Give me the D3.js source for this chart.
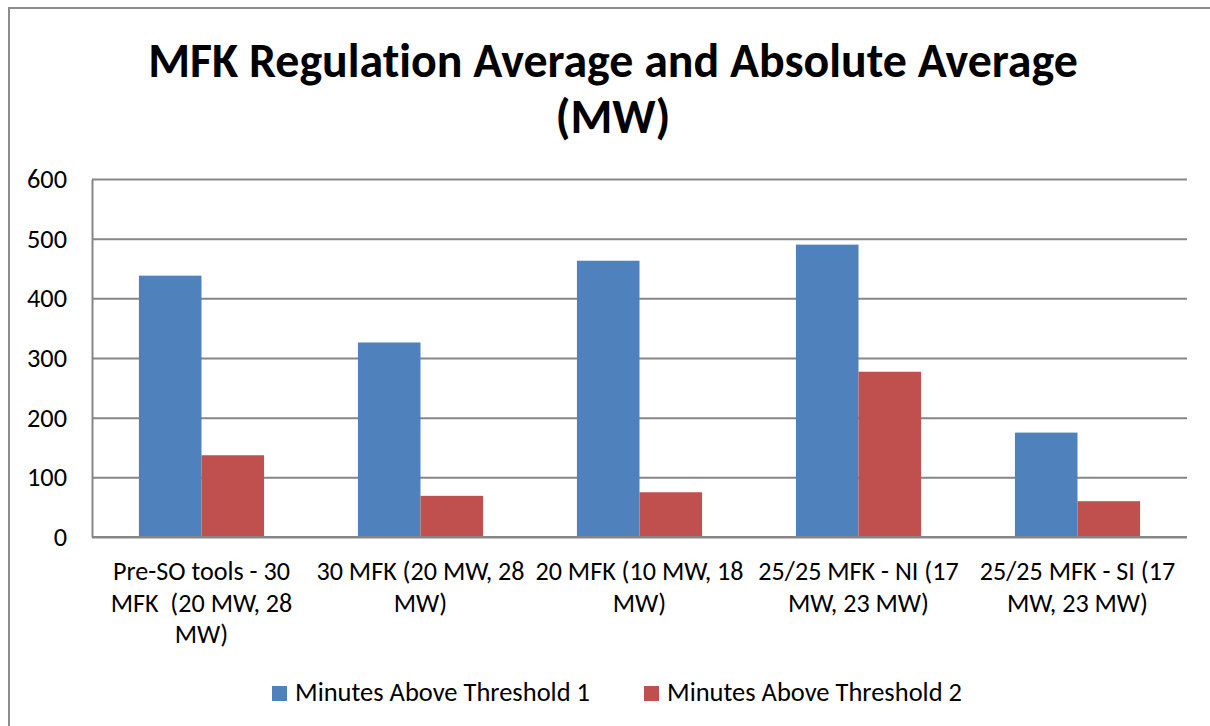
<!DOCTYPE html>
<html>
<head>
<meta charset="utf-8">
<script src="https://cdn.jsdelivr.net/npm/d3@7"></script>
<style>
  body { margin: 0; background: #fff; }
  svg { display: block; }
  text { font-variant-ligatures: none; font-feature-settings: "liga" 0; }
</style>
</head>
<body>
<div id="chart"></div>
<script>
var categories = [
  'Pre-SO tools - 30\nMFK  (20 MW, 28\nMW)',
  '30 MFK (20 MW, 28\nMW)',
  '20 MFK (10 MW, 18\nMW)',
  '25/25 MFK - NI (17\nMW, 23 MW)',
  '25/25 MFK - SI (17\nMW, 23 MW)'
];
var seriesNames = ['Minutes Above Threshold 1', 'Minutes Above Threshold 2'];
var threshold1 = [438, 326, 463, 490, 175];
var threshold2 = [137, 69, 75, 277, 60];
var yTicks = [0, 100, 200, 300, 400, 500, 600];
var titleLines = ['MFK Regulation Average and Absolute Average', '(MW)'];

var font = 'Carlito, Calibri, Lato, sans-serif';
var colors = ['#4F81BD', '#C0504D'];

var W = 1210, H = 726;
var svg = d3.select('#chart').append('svg')
    .attr('width', W)
    .attr('height', H),
  margin = {top: 179, right: 23, bottom: 189, left: 92},
  width = W - margin.left - margin.right,
  height = H - margin.top - margin.bottom,
  g = svg.append('g').attr('transform', 'translate(' + margin.left + ',' + margin.top + ')');

// size text so that it spans the same width as in the picture
function fit(sel, target) {
  var w = sel.node().getComputedTextLength();
  var fs = parseFloat(sel.attr('font-size'));
  sel.attr('font-size', fs * target / w);
  return fs * target / w;
}

// chart area frame (only top and left edges are visible)
svg.append('path')
  .attr('d', 'M9,' + H + 'V8H' + W)
  .attr('fill', 'none')
  .attr('stroke', '#8c8c8c')
  .attr('stroke-width', 2);

// title
var t1 = svg.append('text')
  .attr('x', 613).attr('y', 77)
  .attr('text-anchor', 'middle')
  .attr('font-family', font).attr('font-weight', 'bold')
  .attr('font-size', 46)
  .text(titleLines[0]);
var tfs = fit(t1, 930);
svg.append('text')
  .attr('x', 613).attr('y', 133)
  .attr('text-anchor', 'middle')
  .attr('font-family', font).attr('font-weight', 'bold')
  .attr('font-size', tfs)
  .text(titleLines[1]);

var x0 = d3.scaleBand().domain(d3.range(categories.length)).range([0, width]);
var x1 = d3.scaleBand().domain([0, 1])
  .range([x0.bandwidth() * 0.75 / 3.5, x0.bandwidth() * 2.75 / 3.5]);
var y = d3.scaleLinear().domain([0, 600]).range([height, 0]);

// gridlines
g.append('g')
  .attr('class', 'grid')
  .call(d3.axisLeft(y).tickValues(yTicks).tickSize(-width).tickFormat(''))
  .call(function (s) {
    s.select('.domain').remove();
    s.selectAll('line').attr('stroke', '#868686').attr('stroke-width', 2);
  });

// bars
var data = [threshold1, threshold2];
var groups = g.selectAll('.cat')
  .data(categories)
  .enter().append('g')
  .attr('class', 'cat')
  .attr('transform', function (d, i) { return 'translate(' + x0(i) + ',0)'; });

groups.selectAll('rect')
  .data(function (d, i) { return data.map(function (s, j) { return {s: j, v: s[i]}; }); })
  .enter().append('rect')
  .attr('x', function (d) { return x1(d.s); })
  .attr('width', x1.bandwidth())
  .attr('y', function (d) { return y(d.v); })
  .attr('height', function (d) { return height - y(d.v); })
  .attr('fill', function (d) { return colors[d.s]; });

// y axis
var yAxis = g.append('g')
  .attr('class', 'axis axis--y')
  .call(d3.axisLeft(y).tickValues(yTicks).tickSize(0).tickPadding(25));
yAxis.select('.domain').attr('stroke', '#868686').attr('stroke-width', 2);
yAxis.selectAll('text')
  .attr('font-family', font).attr('font-size', 24).attr('fill', '#000');
var tickFs = fit(yAxis.select('.tick:last-of-type text'), 40);
yAxis.selectAll('text').attr('font-size', tickFs);

// x axis line
g.append('line')
  .attr('x1', 0).attr('x2', width)
  .attr('y1', height).attr('y2', height)
  .attr('stroke', '#868686').attr('stroke-width', 2);

// category labels
var labels = groups.append('text')
  .attr('text-anchor', 'middle')
  .attr('font-family', font).attr('font-size', 24)
  .attr('fill', '#000')
  .attr('transform', 'translate(' + x0.bandwidth() / 2 + ',' + (height + 43) + ')');
labels.selectAll('tspan')
  .data(function (d) { return d.split('\n'); })
  .enter().append('tspan')
  .attr('x', 0)
  .attr('dy', function (d, i) { return i ? 31.5 : 0; })
  .attr('xml:space', 'preserve')
  .style('white-space', 'pre')
  .text(function (d) { return d; });
var first = labels.filter(function (d, i) { return i === 0; }).select('tspan');
var catFs = 24 * 177 / first.node().getComputedTextLength();
labels.attr('font-size', catFs);

// legend
var legendX = [272, 644];
var legend = svg.selectAll('.legend')
  .data(seriesNames)
  .enter().append('g')
  .attr('class', 'legend')
  .attr('transform', function (d, i) { return 'translate(' + legendX[i] + ',686)'; });
legend.append('rect')
  .attr('width', 15).attr('height', 15)
  .attr('fill', function (d, i) { return colors[i]; });
var legText = legend.append('text')
  .attr('x', 23).attr('y', 14.5)
  .attr('font-family', font).attr('font-size', 24)
  .attr('fill', '#000')
  .text(function (d) { return d; });
var legFs = 24 * 295 / legText.node().getComputedTextLength();
legText.attr('font-size', legFs);
</script>
</body>
</html>
